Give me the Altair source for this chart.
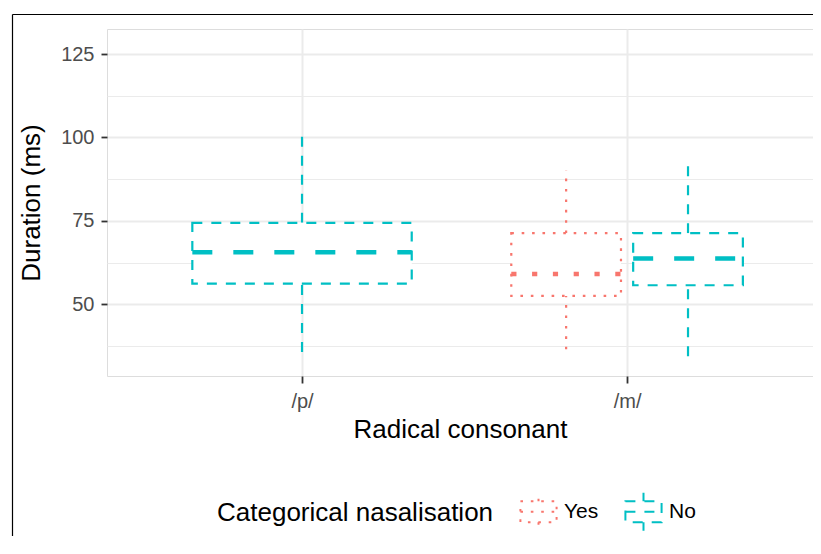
import altair as alt
import pandas as pd

# ---- data ----
consonant = ["/p/", "/m/", "/m/"]
nasalisation = ["No", "Yes", "No"]
lower = [35.7, 36.5, 34.4]
q1 = [56.2, 52.5, 55.7]
median = [65.6, 59.1, 63.7]
q3 = [74.4, 71.3, 71.3]
upper = [100.2, 90.1, 91.9]

consonant_levels = ["/p/", "/m/"]
nas_levels = ["Yes", "No"]
colors = ["#F8766D", "#00BFC4"]

df = pd.DataFrame({
    "consonant": consonant, "nas": nasalisation,
    "lower": lower, "q1": q1, "median": median, "q3": q3, "upper": upper,
})

# position_dodge2 logic (box width 0.75, padding 0.1)
df["idx"] = df["consonant"].map({c: i + 1 for i, c in enumerate(consonant_levels)})
df["n"] = df.groupby("consonant")["nas"].transform("count")
df["k"] = df.groupby("consonant").cumcount()
slot = 0.75 / df["n"]
df["xc"] = df["idx"] - 0.375 + slot * (df["k"] + 0.5)
df["xlo"] = df["xc"] - slot * 0.9 / 2
df["xhi"] = df["xc"] + slot * 0.9 / 2

dash_box = {"Yes": [2.6, 7.8], "No": [10, 9]}
dash_med = {"Yes": [5.2, 15.6], "No": [20, 21]}

label_expr = " : ".join(
    [f"datum.value == {i + 1} ? '{c}'" for i, c in enumerate(consonant_levels)]
) + " : ''"

legend = alt.Legend(
    title="Categorical nasalisation", orient="none", direction="horizontal",
    legendX=110, legendY=462, titleOrient="left", titleFontSize=26,
    titleFontWeight="normal", titleColor="black", titlePadding=24,
    labelFontSize=21, labelColor="black", labelOffset=5, columnPadding=22,
    symbolType="M-0.95,-0.55H0.95V0.55H-0.95Z M-0.95,0H0.95 M0,-0.55V-1 M0,0.55V1",
    symbolSize=1450, symbolStrokeWidth=2, symbolFillColor="white",
    titleBaseline="middle", titleLimit=400,
)

stroke_enc = alt.Stroke("nas:N", scale=alt.Scale(domain=nas_levels, range=colors), legend=legend)
dash_enc = alt.StrokeDash(
    "nas:N", scale=alt.Scale(domain=nas_levels, range=[dash_box[l] for l in nas_levels]), legend=legend
)

x_scale = alt.Scale(domain=[0.4, 2.572], nice=False, zero=False)
y_scale = alt.Scale(domain=[28.5, 132.5], nice=False, zero=False)

x_axis = alt.Axis(
    title="Radical consonant", values=[1, 2], labelExpr=label_expr,
    grid=True, gridColor="#EBEBEB", gridWidth=2, domain=False,
    ticks=True, tickSize=7, tickColor="#333333", tickWidth=1.8,
    labelFontSize=20, labelColor="#4D4D4D", labelPadding=8,
    titleFontSize=26, titleFontWeight="normal", titleColor="black", titlePadding=5,
)
y_axis = alt.Axis(
    title="Duration (ms)", values=[37.5, 50, 62.5, 75, 87.5, 100, 112.5, 125],
    labelExpr="datum.value % 25 == 0 ? datum.label : ''",
    grid=True, gridColor="#EBEBEB",
    gridWidth=alt.ExprRef("datum.value % 25 == 0 ? 2 : 1"),
    domain=False, ticks=True, tickSize=6, tickColor="#333333", tickWidth=1.8,
    tickOpacity=alt.ExprRef("datum.value % 25 == 0 ? 1 : 0"),
    labelFontSize=20, labelColor="#4D4D4D", labelPadding=7,
    titleFontSize=26, titleFontWeight="normal", titleColor="black", titlePadding=16,
)

base = alt.Chart(df)

whisk_up = base.mark_rule(strokeWidth=2.2).encode(
    x=alt.X("xc:Q", scale=x_scale, axis=x_axis),
    y=alt.Y("q3:Q", scale=y_scale, axis=y_axis),
    y2="upper:Q", stroke=stroke_enc, strokeDash=dash_enc,
)
whisk_dn = base.mark_rule(strokeWidth=2.2).encode(
    x=alt.X("xc:Q", scale=x_scale, axis=x_axis),
    y=alt.Y("lower:Q", scale=y_scale, axis=y_axis),
    y2="q1:Q", stroke=stroke_enc, strokeDash=dash_enc,
)
layers = [whisk_up, whisk_dn]
for lvl, col in zip(nas_levels, colors):
    sub = base.transform_filter(alt.datum.nas == lvl)
    layers.append(
        sub.mark_rect(fill="white", stroke=col, strokeWidth=2.2, strokeDash=dash_box[lvl]).encode(
            x=alt.X("xlo:Q", scale=x_scale, axis=x_axis), x2="xhi:Q",
            y=alt.Y("q1:Q", scale=y_scale, axis=y_axis), y2="q3:Q",
        )
    )
    layers.append(
        sub.mark_rule(strokeWidth=4.5, strokeDash=dash_med[lvl], color=col).encode(
            x=alt.X("xlo:Q", scale=x_scale, axis=x_axis), x2="xhi:Q",
            y=alt.Y("median:Q", scale=y_scale, axis=y_axis),
        )
    )

frame_left = alt.Chart(pd.DataFrame({"a": [0]})).mark_rule(color="black", strokeWidth=1.2).encode(
    x=alt.value(-94.5), y=alt.value(-14.5), y2=alt.value(530)
)
frame_top = alt.Chart(pd.DataFrame({"a": [0]})).mark_rule(color="black", strokeWidth=1.2).encode(
    x=alt.value(-94.5), x2=alt.value(714), y=alt.value(-14.5)
)

chart = alt.layer(
    *layers, frame_left, frame_top
).properties(
    width=706, height=347,
    autosize=alt.AutoSizeParams(type="none"),
    padding={"left": 99, "top": 21, "right": 0, "bottom": 160},
).configure_view(
    stroke="#333333", strokeWidth=1.8
).configure(
    font="Liberation Sans"
)

chart.save("out.html", embed_options={"renderer": "svg", "actions": False})
